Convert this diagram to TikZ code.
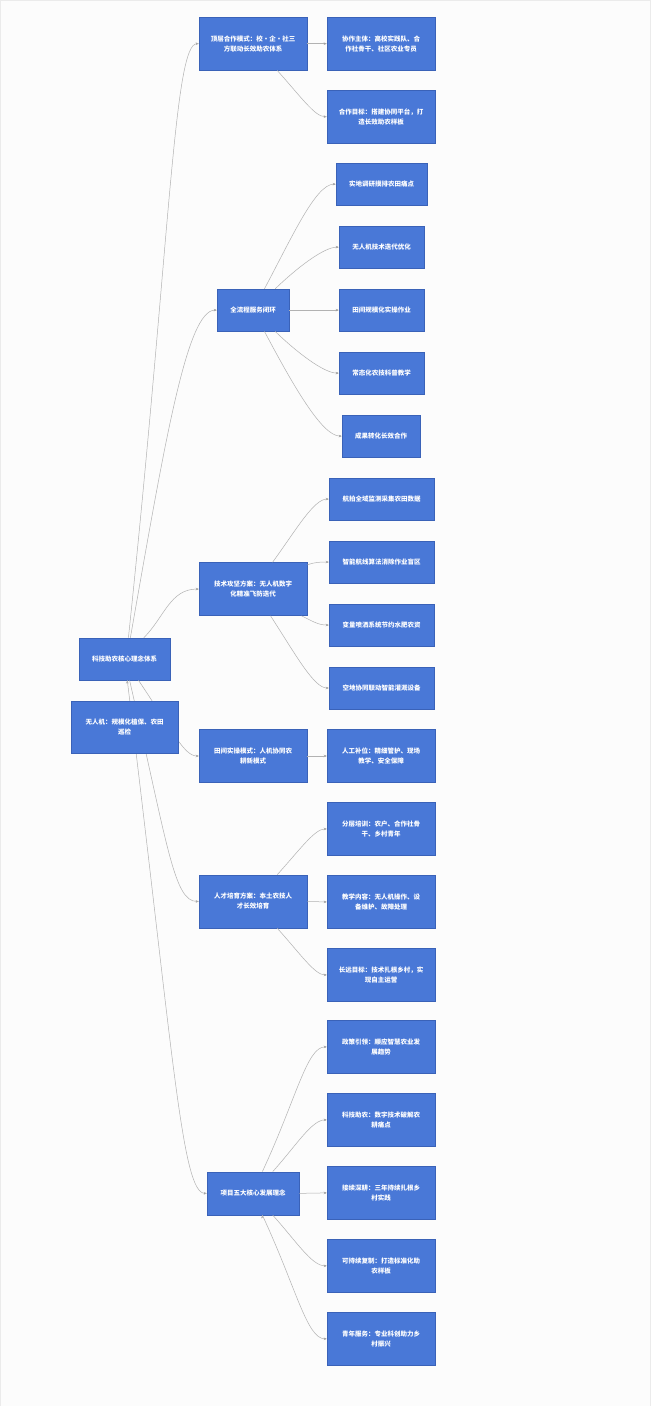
\documentclass[tikz,border=0pt]{standalone}
\usepackage{fontspec}
\setmainfont{Noto Sans CJK SC}
\usetikzlibrary{arrows.meta}
\definecolor{boxfill}{RGB}{73,120,215}
\definecolor{boxline}{RGB}{58,98,184}
\definecolor{linkgray}{RGB}{178,178,178}
\definecolor{paper}{RGB}{252,252,252}

\begin{document}
\begin{tikzpicture}[x=1pt,y=1pt,->,>={Stealth[length=3.2pt,width=2.6pt]},
    box/.style={rectangle,draw=boxline,fill=boxfill,line width=0.6pt,text=white,
      font=\fontsize{6.5}{10}\selectfont\bfseries,align=center,inner sep=0pt},
    wide/.style={box,minimum width=108pt,minimum height=53pt},
    link/.style={draw=linkgray,line width=0.5pt}]

  \path[-,draw=black!8,fill=paper] (0,0) rectangle (650,-1406);
  \useasboundingbox (0,0) rectangle (650,-1406);

  \node[box,minimum width=91pt,minimum height=42pt] (core) at (124.5,-659) {科技助农核心理念体系};

  \node[wide] (coop)   at (253,-43.5)  {顶层合作模式：校·企·社三\\方联动长效助农体系};
  \node[box,minimum width=72pt,minimum height=42pt] (loop) at (253,-310) {全流程服务闭环};
  \node[wide] (tech)   at (253,-589)   {技术攻坚方案：无人机数字\\化精准飞防迭代};
  \node[wide] (field)  at (253,-756)   {田间实操模式：人机协同农\\耕新模式};
  \node[wide] (talent) at (253,-901.5) {人才培育方案：本土农技人\\才长效培育};
  \node[box,minimum width=92pt,minimum height=43pt] (idea) at (253,-1193.5) {项目五大核心发展理念};

  \node[wide] (coop1) at (381,-43.5)  {协作主体：高校实践队、合\\作社骨干、社区农业专员};
  \node[wide] (coop2) at (381,-116.5) {合作目标：搭建协同平台，打\\造长效助农样板};

  \node[box,minimum width=91pt,minimum height=42pt] (loop1) at (381.5,-184) {实地调研摸排农田痛点};
  \node[box,minimum width=85pt,minimum height=42pt] (loop2) at (381.5,-247) {无人机技术迭代优化};
  \node[box,minimum width=85pt,minimum height=42pt] (loop3) at (381.5,-310) {田间规模化实操作业};
  \node[box,minimum width=85pt,minimum height=42pt] (loop4) at (381.5,-373) {常态化农技科普教学};
  \node[box,minimum width=78pt,minimum height=42pt] (loop5) at (381,-436)   {成果转化长效合作};

  \node[box,minimum width=105pt,minimum height=42pt] (tech1) at (381.5,-499) {航拍全域监测采集农田数据};
  \node[box,minimum width=105pt,minimum height=42pt] (tech2) at (381.5,-562) {智能航线算法消除作业盲区};
  \node[box,minimum width=105pt,minimum height=42pt] (tech3) at (381.5,-625) {变量喷洒系统节约水肥农资};
  \node[box,minimum width=105pt,minimum height=42pt] (tech4) at (381.5,-688) {空地协同联动智能灌溉设备};

  \node[wide] (field1) at (381,-756) {人工补位：精细管护、现场\\教学、安全保障};

  \node[wide] (talent1) at (381,-829) {分层培训：农户、合作社骨\\干、乡村青年};
  \node[wide] (talent2) at (381,-902) {教学内容：无人机操作、设\\备维护、故障处理};
  \node[wide] (talent3) at (381,-975) {长远目标：技术扎根乡村，实\\现自主运营};

  \node[wide] (idea1) at (381,-1047) {政策引领：顺应智慧农业发\\展趋势};
  \node[wide] (idea2) at (381,-1120) {科技助农：数字技术破解农\\耕痛点};
  \node[wide] (idea3) at (381,-1193) {接续深耕：三年持续扎根乡\\村实践};
  \node[wide] (idea4) at (381,-1266) {可持续复制：打造标准化助\\农样板};
  \node[wide] (idea5) at (381,-1339) {青年服务：专业科创助力乡\\村振兴};

  \path[link]
    (core.80)  edge[out=84,in=180,out distance=400pt,in distance=25pt] (coop.west)
    (core.75)  edge[out=80,in=180,out distance=200pt,in distance=30pt] (loop.west)
    (core.48)  edge[out=45,in=180] (tech.west)
    (core.-57) edge[out=-56,in=180,out distance=60pt,in distance=15pt] (field.west)
    (core.-77) edge[out=-77,in=180,out distance=170pt,in distance=25pt] (talent.west)
    (core.-83) edge[out=-83,in=180,out distance=380pt,in distance=25pt] (idea.west);

  \path[link]
    (coop.east) edge (coop1.west)
    (coop.-48)  edge[out=-48,in=180,out distance=35pt,in distance=12pt] (coop2.west)
    (loop.62)   edge[out=62,in=180,out distance=60pt,in distance=20pt] (loop1.west)
    (loop.44)   edge[out=44,in=180,out distance=30pt,in distance=15pt] (loop2.west)
    (loop.east) edge (loop3.west)
    (loop.-44)  edge[out=-44,in=180,out distance=30pt,in distance=15pt] (loop4.west)
    (loop.-62)  edge[out=-62,in=180,out distance=60pt,in distance=20pt] (loop5.west)
    (tech.54)   edge[out=54,in=180,out distance=40pt,in distance=15pt] (tech1.west)
    (tech.24)   edge[out=20,in=180] (tech2.west)
    (tech.-29)  edge[out=-25,in=180] (tech3.west)
    (tech.-57)  edge[out=-57,in=180,out distance=45pt,in distance=15pt] (tech4.west)
    (field.east) edge (field1.west)
    (talent.48) edge[out=48,in=180,out distance=35pt,in distance=12pt] (talent1.west)
    (talent.east) edge (talent2.west)
    (talent.-48) edge[out=-48,in=180,out distance=35pt,in distance=12pt] (talent3.west)
    (idea.67)   edge[out=65,in=180,out distance=80pt,in distance=20pt] (idea1.west)
    (idea.48)   edge[out=48,in=180,out distance=35pt,in distance=15pt] (idea2.west)
    (idea.east) edge (idea3.west)
    (idea.-48)  edge[out=-48,in=180,out distance=35pt,in distance=15pt] (idea4.west)
    (idea.-67)  edge[out=-65,in=180,out distance=80pt,in distance=20pt] (idea5.west);

  \node[box,minimum width=107pt,minimum height=52pt] (uav) at (124.5,-727) {无人机：规模化植保、农田\\巡检};
\end{tikzpicture}
\end{document}
